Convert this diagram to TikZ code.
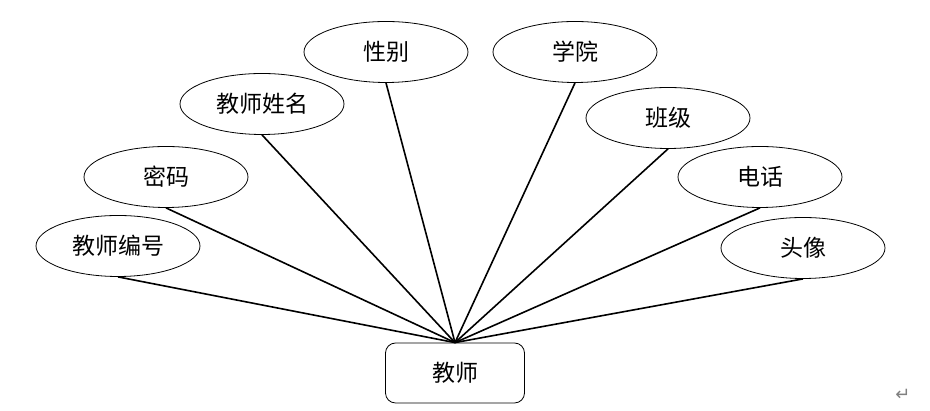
\documentclass[tikz,border=0pt]{standalone}
\usepackage{fontspec}
\newfontfamily\cjk{Noto Sans CJK SC}
\newfontfamily\dejavu{DejaVu Sans}
\usetikzlibrary{shapes.geometric}
\begin{document}
\begin{tikzpicture}[x=1pt,y=1pt,
  attr/.style={draw=black, line width=0.8pt, ellipse, minimum width=164pt, minimum height=61pt, inner sep=0pt, font=\cjk\fontsize{23}{26}\selectfont},
  ent/.style={draw=black, line width=0.8pt, rounded corners=10pt, minimum width=139pt, minimum height=60pt, inner sep=0pt, font=\cjk\fontsize{23}{26}\selectfont},
  conn/.style={line width=1.6pt}]
\useasboundingbox (0,0) rectangle (930,411);
\node[ent] (t) at (455,38) {教师};
\node[attr] (a1) at (118,165) {教师编号};
\node[attr] (a2) at (166,234) {密码};
\node[attr] (a3) at (262,307) {教师姓名};
\node[attr] (a4) at (386,359) {性别};
\node[attr] (a5) at (575,359) {学院};
\node[attr] (a6) at (668,293) {班级};
\node[attr] (a7) at (760,234) {电话};
\node[attr] (a8) at (803,163) {头像};
\foreach \n in {a1,a2,a3,a4,a5,a6,a7,a8}
  \draw[conn] (\n.south) -- (t.north);
\node[text=gray, font=\dejavu\fontsize{18}{20}\selectfont] (ret) at (903,16) {↵};
\end{tikzpicture}
\end{document}
